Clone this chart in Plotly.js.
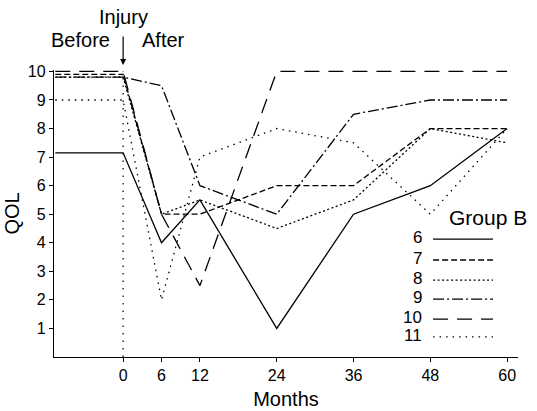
<!DOCTYPE html>
<html>
<head>
<meta charset="utf-8">
<script src="https://cdn.plot.ly/plotly-3.0.1.min.js"></script>
<style>html,body{margin:0;padding:0;background:#fff;}#chart{width:537px;height:411px;}</style>
</head>
<body>
<div id="chart"></div>
<script>
// ---- data ----
var months = [-10.6, 0, 6, 12, 24, 36, 48, 60];   // first point = "Before"
var tickMonths = [0, 6, 12, 24, 36, 48, 60];
var tickLabels = ["0", "6", "12", "24", "36", "48", "60"];
var seriesNames = ["6", "7", "8", "9", "10", "11"];
var qol6  = [7.15, 7.15, 4, 5.5, 1, 5, 6, 8];
var qol7  = [9.9, 9.9, 5, 5, 6, 6, 8, 8];
var qol8  = [9.8, 9.8, 5, 5.5, 4.5, 5.5, 8, 7.5];
var qol9  = [9.8, 9.8, 9.5, 6, 5, 8.5, 9, 9];
var qol10 = [10, 10, 5, 2.5, 10, 10, 10, 10];
var qol11 = [9, 9, 2, 7, 8, 7.5, 5, 8];
var seriesValues = [qol6, qol7, qol8, qol9, qol10, qol11];

// ---- styles ----
var dashes = ["solid", "6px,3px", "2px,2.5px", "11px,3px,2px,3px", "15px,9px", "1.5px,5px"];
var FONT = "Liberation Sans, Arial, Helvetica, sans-serif";

var traces = seriesValues.map(function (vals, i) {
  return {
    x: months, y: vals, type: "scatter", mode: "lines", name: seriesNames[i],
    line: { color: "#000", width: 1.3, dash: dashes[i] },
    showlegend: false, hoverinfo: "skip"
  };
});

// custom legend (numbers to the left of the line samples)
var legRowY = [0.411, 0.338, 0.268, 0.202, 0.132, 0.070];
var shapes = [{
  type: "line", xref: "x", yref: "y", x0: 0, x1: 0, y0: 0, y1: 10,
  line: { color: "#000", width: 1.2, dash: "1.5px,6px" }
}];
var annotations = [];
seriesNames.forEach(function (n, i) {
  shapes.push({
    type: "line", xref: "paper", yref: "paper", x0: 0.817, x1: 0.946,
    y0: legRowY[i], y1: legRowY[i],
    line: { color: "#000", width: 1.3, dash: dashes[i] }
  });
  annotations.push({
    xref: "paper", yref: "paper", x: 0.797, y: legRowY[i] + 0.004,
    xanchor: "right", yanchor: "middle", text: n, showarrow: false,
    font: { family: FONT, size: 17, color: "#000" }
  });
});
annotations.push({
  xref: "paper", yref: "paper", x: 0.847, y: 0.486, xanchor: "left", yanchor: "middle",
  text: "Group B", showarrow: false, font: { family: FONT, size: 21, color: "#000" }
});
annotations.push({
  xref: "paper", yref: "paper", x: 0.057, y: 1.104, xanchor: "center", yanchor: "middle",
  text: "Before", showarrow: false, font: { family: FONT, size: 20, color: "#000" }
});
annotations.push({
  xref: "paper", yref: "paper", x: 0.236, y: 1.104, xanchor: "center", yanchor: "middle",
  text: "After", showarrow: false, font: { family: FONT, size: 20, color: "#000" }
});
annotations.push({
  xref: "x", yref: "paper", x: 0, y: 1.017, text: "Injury", showarrow: true,
  arrowhead: 2, arrowsize: 1, arrowwidth: 1.2, arrowcolor: "#000",
  ax: 0, ay: -48, startstandoff: 7,
  font: { family: FONT, size: 20, color: "#000" }
});

var layout = {
  width: 537, height: 411,
  margin: { l: 54, r: 19, t: 70, b: 54 },
  paper_bgcolor: "#fff", plot_bgcolor: "#fff",
  font: { family: FONT, color: "#000" },
  showlegend: false,
  xaxis: {
    range: [-10.8, 61.7], tickmode: "array", tickvals: tickMonths, ticktext: tickLabels,
    showline: true, linecolor: "#000", linewidth: 1.2, showgrid: false, zeroline: false,
    ticks: "outside", ticklen: 4, tickcolor: "#000", tickfont: { family: FONT, size: 16, color: "#000" },
    title: { text: "Months", font: { family: FONT, size: 20, color: "#000" }, standoff: 8 },
    fixedrange: true
  },
  yaxis: {
    range: [0, 10.05], tickmode: "array", tickvals: [1, 2, 3, 4, 5, 6, 7, 8, 9, 10],
    showline: true, linecolor: "#000", linewidth: 1.2, showgrid: false, zeroline: false,
    ticks: "outside", ticklen: 4, tickcolor: "#000", tickfont: { family: FONT, size: 16, color: "#000" },
    title: { text: "QOL", font: { family: FONT, size: 20, color: "#000" }, standoff: 2 },
    fixedrange: true
  },
  shapes: shapes,
  annotations: annotations
};

Plotly.newPlot("chart", traces, layout, { displayModeBar: false, staticPlot: true });
</script>
</body>
</html>
